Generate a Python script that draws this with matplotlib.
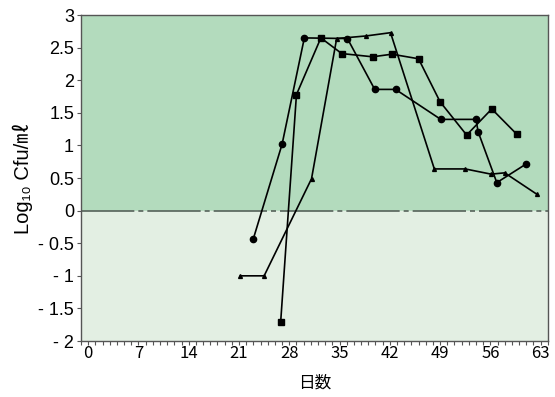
import numpy as np
import matplotlib.pyplot as plt
from matplotlib.ticker import MultipleLocator, FixedLocator, FixedFormatter
from matplotlib.font_manager import FontProperties

# data (day, log10 cfu/ml)
circle_days = [23.0, 27.0, 30.1, 36.1, 39.9, 42.8, 49.1, 54.0, 54.3, 56.9, 60.9]
circle_vals = [-0.43, 1.02, 2.65, 2.64, 1.86, 1.86, 1.40, 1.40, 1.21, 0.43, 0.71]

square_days = [26.8, 29.0, 32.4, 35.3, 39.6, 42.3, 46.0, 49.0, 52.7, 56.2, 59.7]
square_vals = [-1.71, 1.78, 2.65, 2.41, 2.36, 2.40, 2.33, 1.67, 1.16, 1.56, 1.17]

tri_days = [21.2, 24.5, 31.1, 34.6, 38.7, 42.1, 48.2, 52.5, 56.1, 58.0, 62.5]
tri_vals = [-1.00, -1.00, 0.49, 2.64, 2.68, 2.73, 0.64, 0.64, 0.56, 0.58, 0.25]

x_ticks = [0, 7, 14, 21, 28, 35, 42, 49, 56, 63]
y_ticks = [3, 2.5, 2, 1.5, 1, 0.5, 0, -0.5, -1, -1.5, -2]
y_tick_labels = ["3", "2.5", "2", "1.5", "1", "0.5", "0", "- 0.5", "- 1", "- 1.5", "- 2"]

fig = plt.figure(figsize=(5.55, 3.97), dpi=100)
ax = fig.add_axes([0.146, 0.141, 0.841, 0.821])

xmin, xmax = -1, 64
ymin, ymax = -2, 3

# shaded bands above / below zero
ax.axhspan(0, ymax, color="#b3dbbd", zorder=0)
ax.axhspan(ymin, 0, color="#e3efe3", zorder=0)
ax.axhline(0, color="#55625a", linewidth=1.2, linestyle=(0, (32, 2.4, 3, 2.4)), zorder=1)

# the three series
line_kw = dict(color="black", linewidth=1.2, zorder=3)
ax.plot(circle_days, circle_vals, marker="o", markersize=4.5, **line_kw)
ax.plot(square_days, square_vals, marker="s", markersize=4.5, **line_kw)
ax.plot(tri_days, tri_vals, marker="^", markersize=2.8, **line_kw)

ax.set_xlim(xmin, xmax)
ax.set_ylim(ymin, ymax)

ax.xaxis.set_major_locator(FixedLocator(x_ticks))
ax.xaxis.set_minor_locator(MultipleLocator(1))
ax.yaxis.set_major_locator(FixedLocator(y_ticks))
ax.yaxis.set_major_formatter(FixedFormatter(y_tick_labels))

arial = FontProperties(family=["Liberation Sans", "DejaVu Sans"], stretch="normal", size=13)
for lab in ax.get_xticklabels():
    lab.set_family(["Noto Sans CJK JP", "DejaVu Sans"])
    lab.set_fontsize(12)
for lab in ax.get_yticklabels():
    lab.set_fontproperties(arial)

ax.tick_params(axis="both", which="both", direction="out", length=3, width=0.8,
               color="#555555", pad=2)
ax.tick_params(axis="x", which="major", pad=0)

for s in ax.spines.values():
    s.set_color("#555555")
    s.set_linewidth(1.0)
    s.set_zorder(4)

ax.set_xlabel("日数", family=["Noto Sans CJK JP", "DejaVu Sans"], fontsize=12, labelpad=9)
ylab_font = FontProperties(family=["Liberation Sans", "DejaVu Sans", "Noto Sans CJK JP"],
                           stretch="normal", size=14.5)
ax.set_ylabel("Log₁₀ Cfu/㎖", fontproperties=ylab_font, labelpad=4)

fig.savefig("out.png", dpi=100)
